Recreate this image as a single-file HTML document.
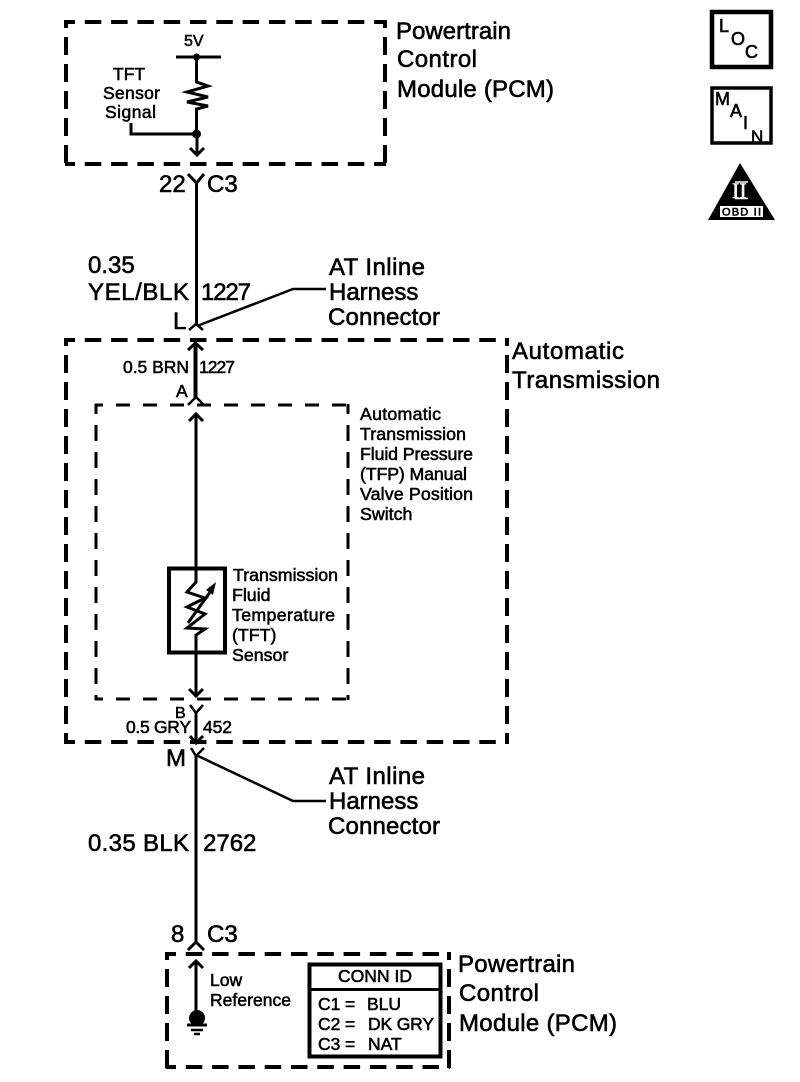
<!DOCTYPE html>
<html><head><meta charset="utf-8"><style>
html,body{margin:0;padding:0;background:#fff}
svg{display:block}
text{font-family:"Liberation Sans",sans-serif;fill:#000;stroke:#000;stroke-width:.6}
.l{font-size:24px}.m{font-size:17.8px;stroke-width:.55}.s{font-size:17.5px;stroke-width:.55}
.dh{fill:none;stroke:#000;stroke-width:4;stroke-dasharray:16.500 9.800;stroke-dashoffset:6.500}
.dv{fill:none;stroke:#000;stroke-width:4;stroke-dasharray:18 9;stroke-dashoffset:10}
.ih{fill:none;stroke:#000;stroke-width:3;stroke-dasharray:14 13;stroke-dashoffset:6}
.iv{fill:none;stroke:#000;stroke-width:3;stroke-dasharray:16 11;stroke-dashoffset:6}
.w{fill:none;stroke:#000;stroke-width:3}
.t{fill:none;stroke:#000;stroke-width:2.500}
</style></head><body>
<svg width="800" height="1082" viewBox="0 0 800 1082" xmlns="http://www.w3.org/2000/svg">
<!-- boxes -->
<path class="dh" d="M65 22H386M65 164H386"/>
<path class="dv" d="M66 20V166M385 20V166"/>
<path class="dh" d="M65 340H508M65 742H508"/>
<path class="dv" d="M66 338V744M507 338V744"/>
<path class="ih" d="M95 405H349M95 699H349"/>
<path class="iv" d="M96 404V700M348 404V700"/>
<path class="dh" d="M166 954H450M166 1067H450"/>
<path class="dv" d="M167 952V1069M449 952V1069"/>

<!-- top PCM -->
<path class="w" d="M176 57H221"/>
<circle cx="196.500" cy="57" r="3.500"/>
<path class="w" d="M196.500 57V82L208 86L187 92L208 97L187 102L208 106L196.500 109V134"/>
<path class="w" d="M131 123V134H197V155M190 148L197 155L204 148"/>
<circle cx="196.500" cy="134" r="4.500"/>
<text class="s" x="113" y="80" >TFT</text>
<text class="s" x="103" y="99" textLength="57">Sensor</text>
<text class="s" x="105" y="118" textLength="51">Signal</text>
<text class="s" x="184" y="46" style="font-size:16px">5V</text>
<text class="l" x="396" y="39" textLength="115">Powertrain</text>
<text class="l" x="397" y="67" textLength="80">Control</text>
<text class="l" x="397" y="97" textLength="157">Module (PCM)</text>

<!-- connector 22 C3 -->
<path class="w" d="M188 174L196.500 183L204 174M196.500 183V326"/>
<text class="l" x="159" y="192">22</text>
<text class="l" x="207" y="192">C3</text>

<text class="l" x="88" y="273">0.35</text>
<text class="l" x="88" y="300" textLength="101">YEL/BLK</text>
<text class="l" x="201" y="300" textLength="50">1227</text>
<text class="l" x="173" y="329">L</text>
<path class="t" d="M189 330L196 324L203 330M197 326L293 289H326"/>
<text class="l" x="329" y="275" textLength="96">AT Inline</text>
<text class="l" x="329" y="300">Harness</text>
<text class="l" x="328" y="325" textLength="112">Connector</text>

<text class="l" x="512" y="359" textLength="112">Automatic</text>
<text class="l" x="512" y="388" textLength="148">Transmission</text>

<!-- segment A -->
<path class="w" style="stroke-width:4" d="M195.500 398V344"/>
<path class="w" d="M188 350L195.500 343L203 350"/>
<text class="s" x="123" y="373" textLength="66">0.5 BRN</text>
<text class="s" x="199" y="373" textLength="36">1227</text>
<text class="s" x="176" y="397" >A</text>
<path class="t" d="M188 405L196 397L204 405"/>

<!-- inner -->
<path class="w" d="M189 421L196 414L203 421M196 414V582L187 592L205 598L187 607L205 614L187 628L205 629L196 635V696M189 689L196 696L203 689"/>
<path class="w" d="M188 623L213 588"/>
<path d="M216 582L206 590L213 595Z"/>
<rect x="169" y="568.500" width="56" height="84" fill="none" stroke="#000" stroke-width="4"/>
<text class="m" x="233" y="581">Transmission</text>
<text class="m" x="232" y="601">Fluid</text>
<text class="m" x="232" y="621" textLength="103">Temperature</text>
<text class="m" x="232" y="641">(TFT)</text>
<text class="m" x="232" y="661">Sensor</text>

<text class="m" x="360" y="420" textLength="81">Automatic</text>
<text class="m" x="360" y="440" textLength="106">Transmission</text>
<text class="m" x="360" y="460" textLength="113">Fluid Pressure</text>
<text class="m" x="360" y="480" textLength="107">(TFP) Manual</text>
<text class="m" x="360" y="500" textLength="113">Valve Position</text>
<text class="m" x="360" y="520">Switch</text>

<!-- B / M -->
<path class="t" d="M190 705L196 713L203 705"/>
<path class="w" d="M196 712V743M190 736L196 743L203 736"/>
<text class="s" x="175" y="718" style="font-size:16px">B</text>
<text class="s" x="126" y="733" textLength="65">0.5 GRY</text>
<text class="s" x="203" y="733" textLength="29">452</text>
<text class="l" x="166" y="766">M</text>
<path class="t" d="M191 748L196 756L204 748M196 755L293 801H326"/>
<path class="w" d="M196 755V943"/>
<text class="l" x="329" y="784" textLength="96">AT Inline</text>
<text class="l" x="329" y="809">Harness</text>
<text class="l" x="328" y="834" textLength="112">Connector</text>
<text class="l" x="88" y="851" textLength="101">0.35 BLK</text>
<text class="l" x="203" y="851">2762</text>

<text class="l" x="171" y="942">8</text>
<text class="l" x="207" y="942">C3</text>
<path class="w" d="M188 950L196 942L204 950"/>

<!-- bottom PCM -->
<path class="w" d="M189 968L196 961L203 968M196 961V1014"/>
<circle cx="197" cy="1018" r="8"/>
<path class="w" d="M187 1025H207"/><path class="t" d="M191 1030H203"/><path class="t" d="M194 1034H200"/>
<text class="s" x="210" y="986">Low</text>
<text class="s" x="210" y="1006" textLength="81">Reference</text>
<rect x="309.500" y="964.500" width="131" height="92" fill="#fff" stroke="#000" stroke-width="4"/>
<path class="w" d="M309 989.500H441"/>
<text class="s" x="338" y="982" textLength="74">CONN ID</text>
<text class="s" x="318" y="1010">C1</text><text class="s" x="345" y="1010">=</text><text class="s" x="367" y="1010">BLU</text>
<text class="s" x="318" y="1030">C2</text><text class="s" x="345" y="1030">=</text><text class="s" x="368" y="1030" textLength="66">DK GRY</text>
<text class="s" x="318" y="1050">C3</text><text class="s" x="345" y="1050">=</text><text class="s" x="368" y="1050">NAT</text>
<text class="l" x="458" y="972" textLength="117">Powertrain</text>
<text class="l" x="459" y="1001" textLength="80">Control</text>
<text class="l" x="459" y="1031" textLength="158">Module (PCM)</text>

<!-- LOC -->
<rect x="712" y="12" width="59" height="55" fill="none" stroke="#000" stroke-width="4.500"/>
<text x="719" y="32" style="font-size:18px">L</text>
<text x="731" y="45" style="font-size:18px">O</text>
<text x="745" y="58" style="font-size:18px">C</text>
<!-- MAIN -->
<rect x="712" y="88" width="59" height="55" fill="none" stroke="#000" stroke-width="3.500"/>
<text x="715" y="105" style="font-size:18px">M</text>
<text x="730" y="117" style="font-size:18px">A</text>
<text x="743" y="129" style="font-size:18px">I</text>
<text x="751" y="142" style="font-size:17px">N</text>
<!-- OBD -->
<path d="M740 163L775 220H708Z"/>
<rect x="720" y="206" width="43" height="11" fill="#fff"/>
<text x="722" y="215.500" style="font-size:11px" textLength="39">OBD II</text>
<text x="732" y="198" style="font-family:'Liberation Serif',serif;font-size:22px;fill:#fff;stroke:#fff;stroke-width:.5">II</text>
<path d="M735 182H748M735 198.500H748" stroke="#fff" stroke-width="1.500"/>
</svg>
</body></html>
